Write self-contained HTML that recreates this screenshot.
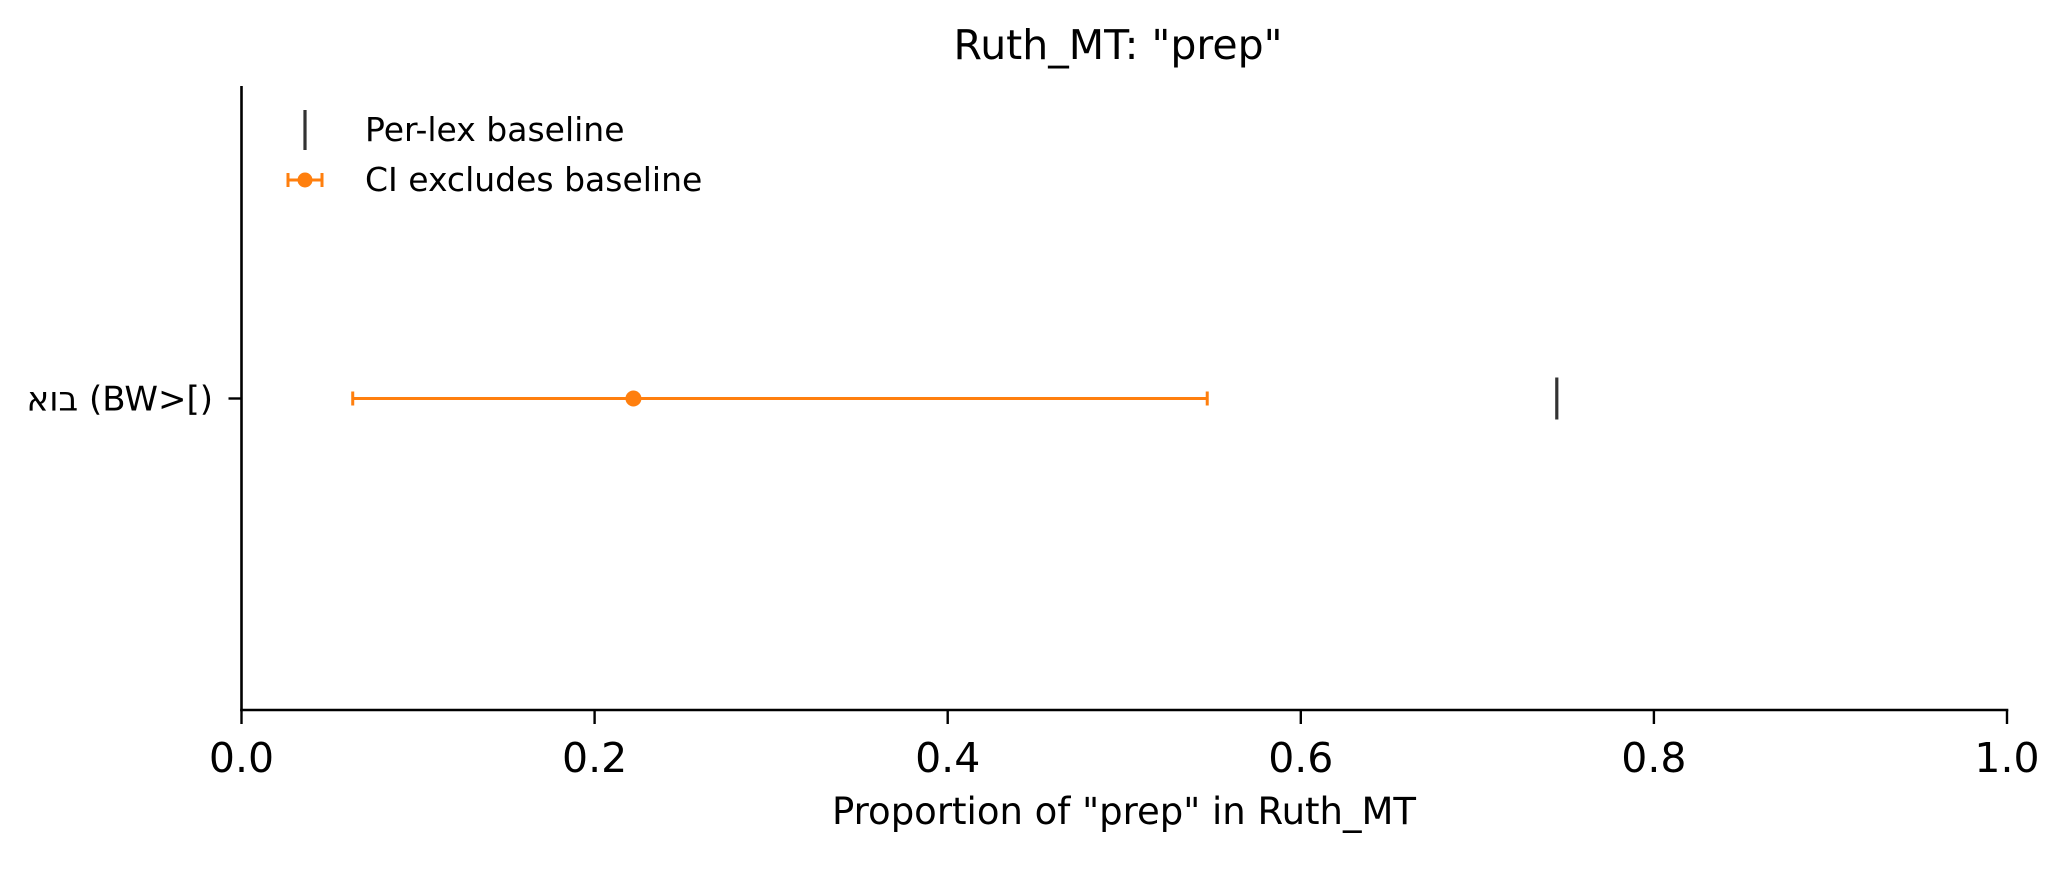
<!DOCTYPE html>
<html><head><meta charset="utf-8"><style>
html,body{margin:0;padding:0;background:#fff}
svg text{font-family:"DejaVu Sans","Liberation Sans","Noto Sans CJK JP",sans-serif;fill:#000}
</style></head><body>
<svg id="chart" width="2069" height="864" viewBox="0 0 2069 864" xmlns="http://www.w3.org/2000/svg">
<rect width="2069" height="864" fill="#fff"/>
<text x="1118" y="59" font-size="41" text-anchor="middle">Ruth_MT: "prep"</text>
<g id="axes"></g>
<g id="marks"></g>
<text x="1124" y="824" font-size="37" text-anchor="middle">Proportion of "prep" in Ruth_MT</text>
<g>
<line x1="305" y1="110" x2="305" y2="150" stroke="#333" stroke-width="3.2"/>
<text x="365" y="141" font-size="33">Per-lex baseline</text>
<g stroke="#ff7f0e" stroke-width="3">
<line x1="288" y1="180" x2="322" y2="180"/><line x1="288" y1="173" x2="288" y2="187"/><line x1="322" y1="173" x2="322" y2="187"/>
<circle cx="305" cy="180" r="7.5" fill="#ff7f0e" stroke="none"/></g>
<text x="365" y="191" font-size="33">CI excludes baseline</text>
</g>
</svg>
<script>
const categories = ["בוא (BW>[)"];
const estimates = [0.222];
const ciLow = [0.063];
const ciHigh = [0.547];
const baselines = [0.745];
const xTicks = [0, 0.2, 0.4, 0.6, 0.8, 1.0];
const xTickLabels = ["0.0","0.2","0.4","0.6","0.8","1.0"];

const L=241.5,R=2007,T=86,B=710;
const xs=v=>L+v*(R-L);
const ys=i=>398.5+i*80;
const NS="http://www.w3.org/2000/svg";
function mk(tag,attrs,parent,txt){const e=document.createElementNS(NS,tag);for(const k in attrs)e.setAttribute(k,attrs[k]);if(txt!==undefined)e.textContent=txt;parent.appendChild(e);return e;}
const ax=document.getElementById('axes'), mg=document.getElementById('marks');
let e=mk('line',{x1:L,y1:T,x2:L,y2:B+1.3,stroke:'#000','stroke-width':2.6},ax);


e=mk('line',{x1:L-1.3,y1:B,x2:R+1.3,y2:B,stroke:'#000','stroke-width':2.6},ax);


xTicks.forEach((v,i)=>{
 const t=mk('line',{x1:xs(v),y1:B,x2:xs(v),y2:B+14,stroke:'#000','stroke-width':2.4},ax);
 
 
 const l=mk('text',{x:xs(v),y:772,'font-size':41,'text-anchor':'middle'},ax,xTickLabels[i]);
 
 
});
categories.forEach((c,i)=>{
 const y=ys(i);
 const t=mk('line',{x1:L-13,y1:y,x2:L,y2:y,stroke:'#000','stroke-width':2.4},ax);
 
 
 const l=mk('text',{x:213,y:y+12,'font-size':34,'text-anchor':'end',direction:'ltr'},ax,c);
 
 
 const g=mk('g',{stroke:'#ff7f0e','stroke-width':3},mg);
 
 
 mk('line',{x1:xs(ciLow[i]),y1:y,x2:xs(ciHigh[i]),y2:y},g);
 mk('line',{x1:xs(ciLow[i]),y1:y-7,x2:xs(ciLow[i]),y2:y+7},g);
 mk('line',{x1:xs(ciHigh[i]),y1:y-7,x2:xs(ciHigh[i]),y2:y+7},g);
 const p=mk('circle',{cx:xs(estimates[i]),cy:y,r:8,fill:'#ff7f0e'},mg);
 
 
 const b=mk('line',{x1:xs(baselines[i]),y1:y-21,x2:xs(baselines[i]),y2:y+21,stroke:'#333','stroke-width':3.2},mg);
 
 
});
</script>
</body></html>
